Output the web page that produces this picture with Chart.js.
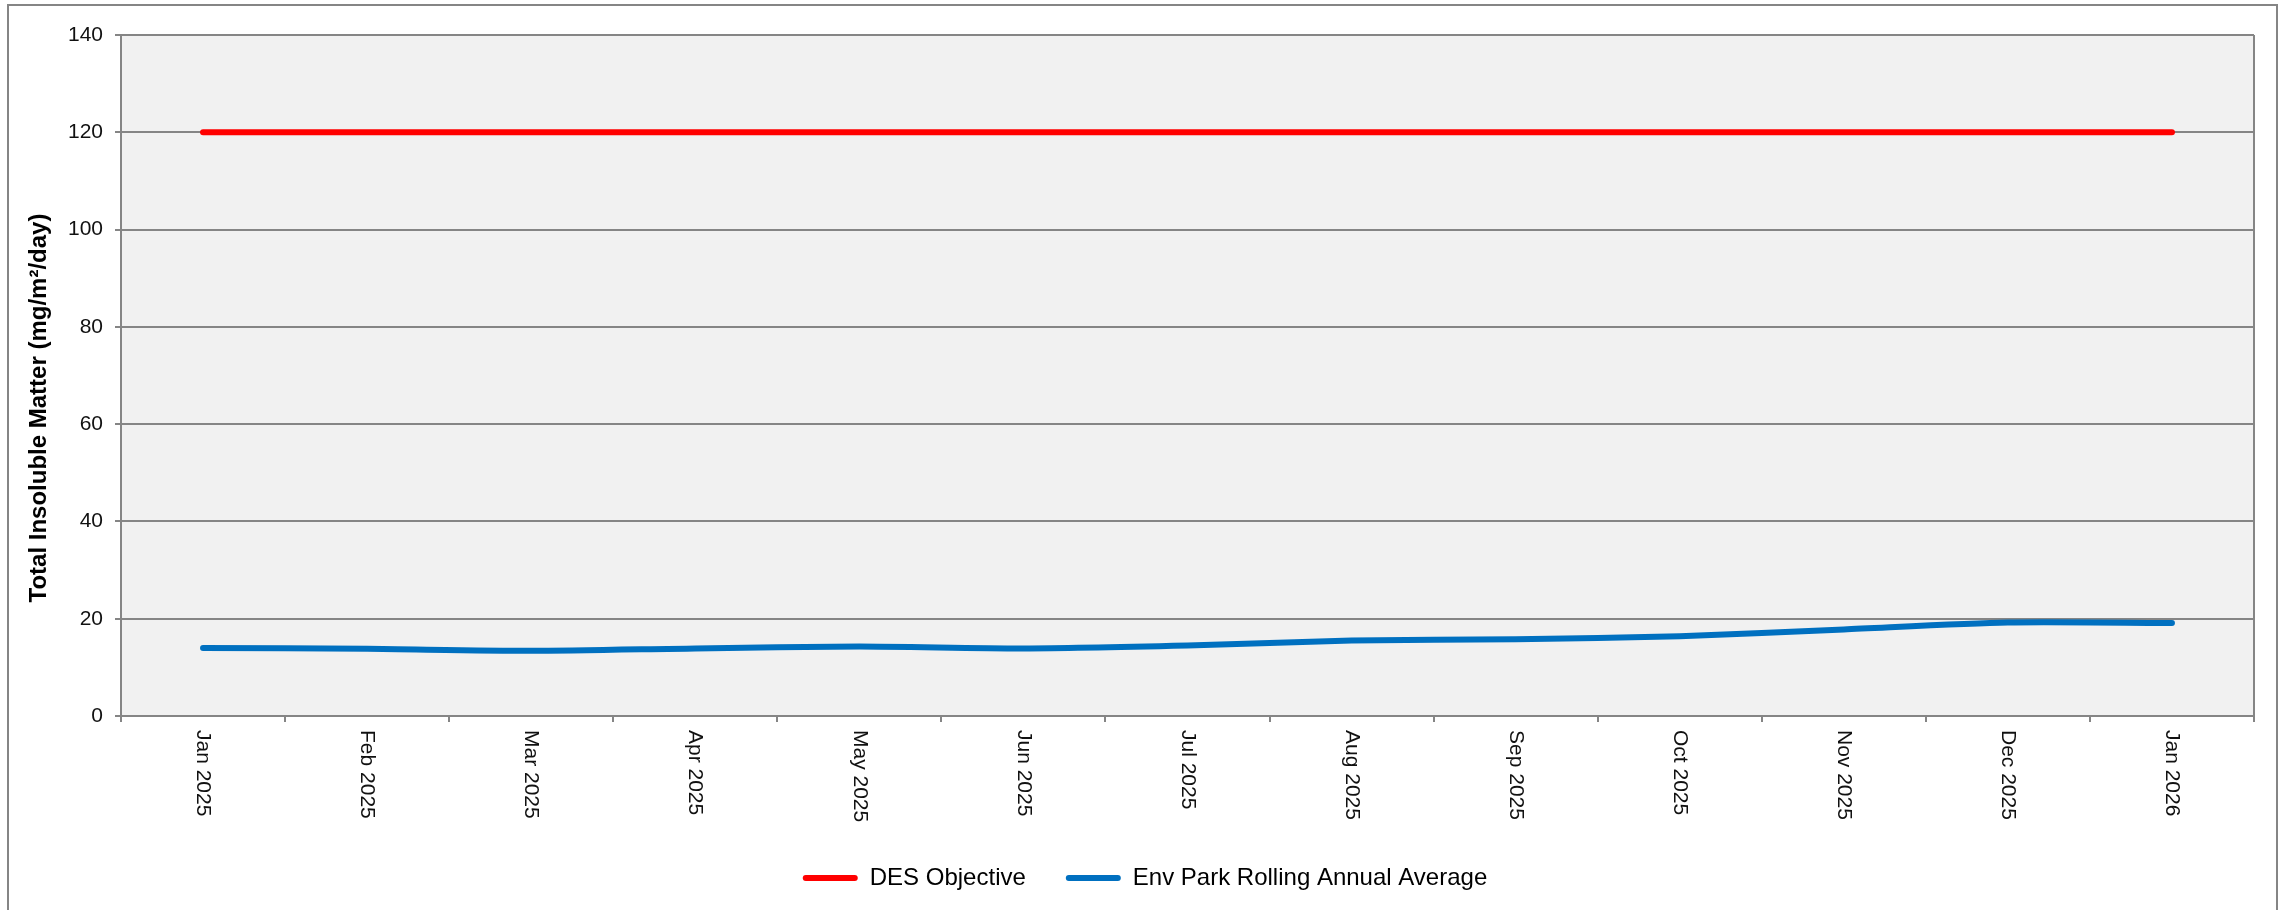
<!DOCTYPE html>
<html>
<head>
<meta charset="utf-8">
<script src="https://cdn.jsdelivr.net/npm/chart.js@4"></script>
<style>
  html, body { margin: 0; padding: 0; background: #fff; }
  #wrap { width: 2285px; height: 910px; position: relative; }
</style>
</head>
<body>
<div id="wrap"><canvas id="tsmChart"></canvas></div>
<script>
// chart data
const months = [
  "Jan 2025", "Feb 2025", "Mar 2025", "Apr 2025", "May 2025", "Jun 2025",
  "Jul 2025", "Aug 2025", "Sep 2025", "Oct 2025", "Nov 2025", "Dec 2025",
  "Jan 2026",
];
const desObjective = [120, 120, 120, 120, 120, 120, 120, 120, 120, 120, 120, 120, 120];
const rollingAverage = [14.0, 13.8, 13.4, 13.9, 14.3, 13.9, 14.5, 15.5, 15.8, 16.4, 17.8, 19.2, 19.1];
const yTitle = "Total Insoluble Matter (mg/m\u00b2/day)";

const FONT = "'Liberation Sans', Arial, sans-serif";
const GRID = "#858585";

// plot background, outer frame, rotated month labels, axis title
const excelLook = {
  id: "excelLook",
  afterLayout(chart) {
    // nudge legend to where Excel put it
    const lg = chart.legend;
    lg.left += 18;
    lg.right += 18;
    lg.top -= 10;
    lg.bottom -= 10;
  },
  beforeDraw(chart) {
    const { ctx, chartArea: a } = chart;
    ctx.save();
    ctx.fillStyle = "#ffffff";
    ctx.fillRect(0, 0, chart.width, chart.height);
    ctx.strokeStyle = GRID;
    ctx.lineWidth = 2;
    ctx.strokeRect(8, 5, 2269, 1000);
    ctx.fillStyle = "#f1f1f1";
    ctx.fillRect(a.left, a.top, a.right - a.left, a.bottom - a.top);
    ctx.restore();
  },
  afterDraw(chart) {
    const { ctx, chartArea: a } = chart;
    const x = chart.scales.x;
    ctx.save();
    ctx.strokeStyle = GRID;
    ctx.lineWidth = 2;
    ctx.beginPath();
    ctx.moveTo(a.right, a.top);
    ctx.lineTo(a.right, a.bottom);
    ctx.stroke();

    ctx.fillStyle = "#111";
    ctx.font = "21px " + FONT;
    ctx.textAlign = "left";
    ctx.textBaseline = "middle";
    months.forEach((m, i) => {
      ctx.save();
      ctx.translate(x.getPixelForValue(i), a.bottom + 14);
      ctx.rotate(Math.PI / 2);
      ctx.fillText(m, 0, 0);
      ctx.restore();
    });

    ctx.font = "bold 24px " + FONT;
    ctx.textAlign = "center";
    ctx.fillStyle = "#000";
    ctx.translate(39, 408);
    ctx.rotate(-Math.PI / 2);
    ctx.fillText(yTitle, 0, 0);
    ctx.restore();
  },
};

const ctx = document.getElementById("tsmChart").getContext("2d");
new Chart(ctx, {
  type: "line",
  data: {
    labels: months,
    datasets: [
      {
        label: "DES Objective",
        data: desObjective,
        borderColor: "#ff0000",
        backgroundColor: "#ff0000",
        borderWidth: 6,
        borderCapStyle: "round",
        pointRadius: 0,
        tension: 0,
      },
      {
        label: "Env Park Rolling Annual Average",
        data: rollingAverage,
        borderColor: "#0070c0",
        backgroundColor: "#0070c0",
        borderWidth: 6,
        borderCapStyle: "round",
        pointRadius: 0,
        tension: 0.25,
      },
    ],
  },
  options: {
    responsive: true,
    maintainAspectRatio: false,
    animation: false,
    layout: { padding: { top: 35, right: 31, bottom: 0, left: 0 } },
    plugins: {
      tooltip: { enabled: false },
      legend: {
        position: "bottom",
        labels: {
          color: "#000",
          font: { family: FONT, size: 24 },
          boxWidth: 55,
          boxHeight: 6,
          padding: 40,
          generateLabels(chart) {
            return chart.data.datasets.map((ds, i) => ({
              text: ds.label,
              fillStyle: ds.borderColor,
              strokeStyle: ds.borderColor,
              lineWidth: 0,
              borderRadius: 3,
              datasetIndex: i,
              hidden: false,
            }));
          },
        },
      },
    },
    scales: {
      x: {
        type: "category",
        offset: true,
        grid: {
          offset: true,
          drawOnChartArea: false,
          drawTicks: true,
          tickLength: 6,
          color: GRID,
          lineWidth: 2,
        },
        border: { color: GRID, width: 2 },
        ticks: { display: false },
        afterFit(scale) {
          const lg = scale.chart.legend;
          scale.height = 910 - 716 - (lg ? lg.height : 0);
        },
      },
      y: {
        min: 0,
        max: 140,
        ticks: {
          stepSize: 20,
          padding: 12,
          color: "#111",
          font: { family: FONT, size: 21 },
        },
        grid: { color: GRID, lineWidth: 2, tickLength: 6 },
        border: { color: GRID, width: 2 },
        afterFit(scale) {
          scale.width = 121;
        },
      },
    },
  },
  plugins: [excelLook],
});
</script>
</body>
</html>
